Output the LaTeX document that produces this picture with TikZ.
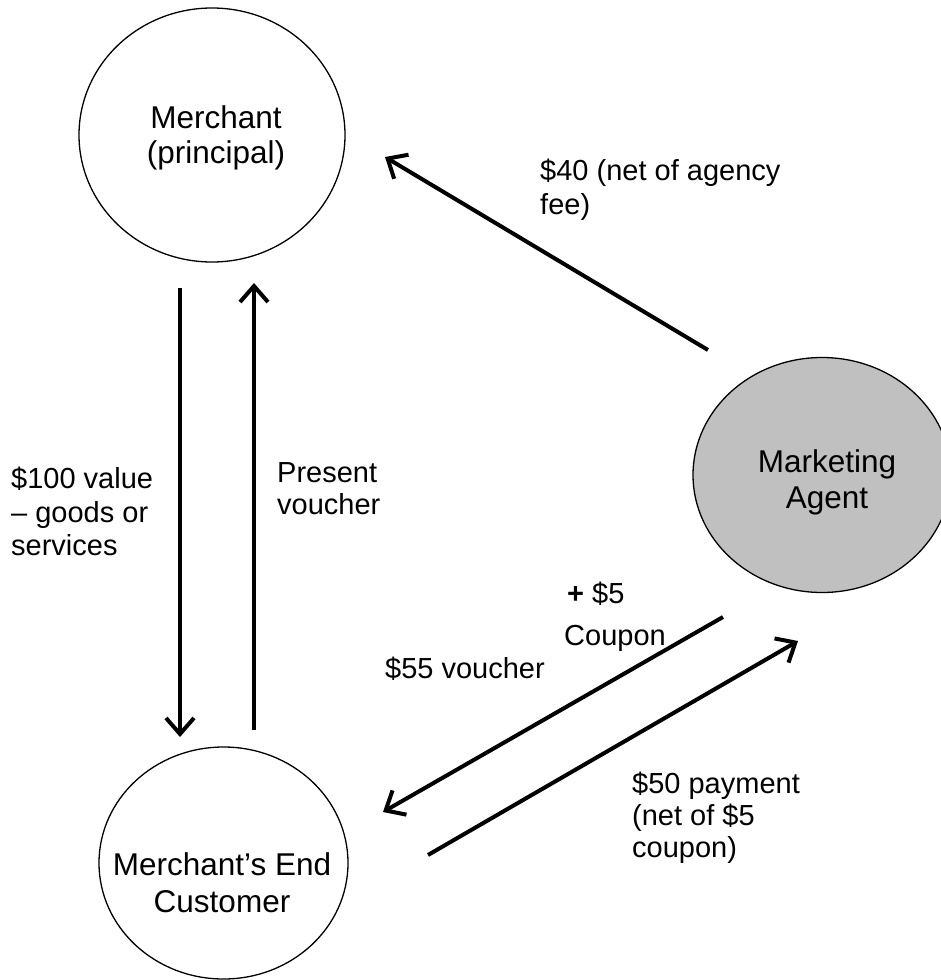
\documentclass[tikz,border=0pt]{standalone}
\usepackage{fontspec}
\setmainfont{Liberation Sans}
\usetikzlibrary{arrows.meta,shapes.geometric}
\tikzset{
  lbl/.style={font=\fontsize{29}{34}\selectfont, inner sep=0pt, anchor=base west},
  ctr/.style={font=\fontsize{31.5}{36}\selectfont, inner sep=0pt, anchor=base},
  party/.style={ellipse, draw=black, line width=1.3pt, inner sep=0pt},
  flow/.style={line width=4pt, -{Straight Barb[length=16pt,width=28pt]}}
}
\begin{document}
\begin{tikzpicture}[x=1pt,y=-1pt]
\useasboundingbox (0,0) rectangle (941,980);
\clip (0,0) rectangle (941,980);
% parties
\node[party, minimum width=266pt, minimum height=254pt] (merchant) at (212,135) {};
\node[party, minimum width=249pt, minimum height=232pt] (customer) at (223.5,863) {};
\node[party, fill={rgb,255:red,192;green,192;blue,192}, minimum width=258pt, minimum height=235pt] (agent) at (822,475) {};
% party texts
\node[ctr] (mt1) at (216,128) {Merchant};
\node[ctr] (mt2) at (216,163) {(principal)};
\node[ctr] (at1) at (827,472) {Marketing};
\node[ctr] (at2) at (827,508) {Agent};
\node[ctr] (ct1) at (222,875) {Merchant’s End};
\node[ctr] (ct2) at (222,912) {Customer};
% arrow end points
\coordinate (a1s) at (708,350);
\coordinate (a1e) at (385,157);
\coordinate (a2s) at (180,288);
\coordinate (a2e) at (180,737);
\coordinate (a3s) at (254,730);
\coordinate (a3e) at (254,283);
\coordinate (a4s) at (723,617);
\coordinate (a4e) at (383,812);
\coordinate (a5s) at (428,855);
\coordinate (a5e) at (798,641);
\draw[flow] (a1s) -- (a1e);
\draw[flow] (a2s) -- (a2e);
\draw[flow] (a3s) -- (a3e);
\draw[flow] (a4s) -- (a4e);
\draw[flow] (a5s) -- (a5e);
% labels
\node[lbl] (l1a) at (540,180) {\$40 (net of agency};
\node[lbl] (l1b) at (540,214) {fee)};
\node[lbl] (l2a) at (11,488) {\$100 value};
\node[lbl] (l2b) at (11,522) {– goods or};
\node[lbl] (l2c) at (11,555) {services};
\node[lbl] (l3a) at (277,482) {Present};
\node[lbl] (l3b) at (277,514) {voucher};
\node[lbl] (l4a) at (567,603) {\textbf{+} \$5};
\node[lbl] (l4b) at (564,645) {Coupon};
\node[lbl] (l5) at (385,678) {\$55 voucher};
\node[lbl] (l6a) at (632,793) {\$50 payment};
\node[lbl] (l6b) at (632,825) {(net of \$5};
\node[lbl] (l6c) at (632,857) {coupon)};
\end{tikzpicture}
\end{document}
